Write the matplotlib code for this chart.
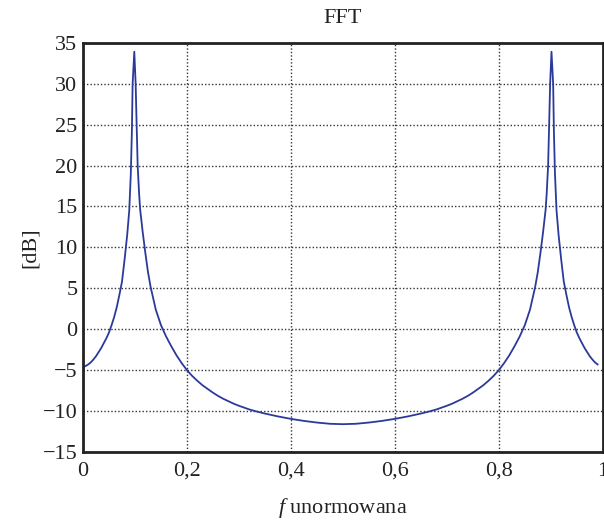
import matplotlib
matplotlib.use('Agg')
import matplotlib.pyplot as plt
from matplotlib.ticker import FixedLocator, FixedFormatter

# normalised frequency and magnitude [dB]
freq_left = [0.00, 0.005, 0.01, 0.015, 0.02, 0.025, 0.03, 0.035, 0.04, 0.045,
             0.05, 0.055, 0.06, 0.065, 0.07, 0.075, 0.08, 0.085, 0.089,
             0.092, 0.094, 0.0955, 0.0987, 0.1013, 0.1032, 0.1052, 0.108,
             0.11, 0.115, 0.12, 0.125, 0.13, 0.14, 0.15, 0.16, 0.17, 0.18,
             0.19, 0.20, 0.21, 0.22, 0.23, 0.24, 0.25, 0.26, 0.27, 0.28,
             0.29, 0.30, 0.32, 0.334, 0.35, 0.375, 0.40, 0.425, 0.45, 0.475,
             0.50]
db_left = [-4.6, -4.5, -4.3, -4.05, -3.7, -3.3, -2.8, -2.3, -1.7, -1.1,
           -0.4, 0.5, 1.5, 2.7, 4.2, 5.8, 8.5, 11.5, 14.5,
           19, 24, 30, 33.9, 30, 25, 20, 16.5,
           14.6, 11.8, 9.3, 7.0, 5.2, 2.4, 0.5, -0.9, -2.1, -3.2,
           -4.15, -5.0, -5.7, -6.3, -6.85, -7.3, -7.75, -8.15, -8.5, -8.8,
           -9.1, -9.35, -9.8, -10.05, -10.3, -10.65, -10.95, -11.2, -11.4, -11.55,
           -11.6]

freq_right = [0.525, 0.55, 0.575, 0.60, 0.625, 0.65, 0.666, 0.68, 0.70, 0.71,
              0.72, 0.73, 0.74, 0.75, 0.76, 0.77, 0.78, 0.79, 0.80, 0.81,
              0.82, 0.83, 0.84, 0.85, 0.86, 0.87, 0.875, 0.88, 0.885, 0.89,
              0.892, 0.8948, 0.8968, 0.8987, 0.9013, 0.9045, 0.906, 0.908,
              0.911, 0.915, 0.92, 0.925, 0.93, 0.935, 0.94, 0.945, 0.95,
              0.955, 0.96, 0.965, 0.97, 0.975, 0.98, 0.985, 0.99]
db_right = [-11.55, -11.4, -11.2, -10.95, -10.65, -10.3, -10.05, -9.8, -9.35, -9.1,
            -8.8, -8.5, -8.15, -7.75, -7.3, -6.85, -6.3, -5.7, -5.0, -4.15,
            -3.2, -2.1, -0.9, 0.5, 2.4, 5.2, 7.0, 9.3, 11.8, 14.6,
            16.5, 20, 25, 30, 33.9, 30, 24, 19,
            14.5, 11.5, 8.5, 5.8, 4.2, 2.7, 1.5, 0.5, -0.4,
            -1.1, -1.7, -2.3, -2.8, -3.3, -3.7, -4.05, -4.3]

x_ticks = [0, 0.2, 0.4, 0.6, 0.8, 1.0]
x_labels = ['0', '0,2', '0,4', '0,6', '0,8', '1']
y_ticks = [-15, -10, -5, 0, 5, 10, 15, 20, 25, 30, 35]

plt.rcParams['font.family'] = ['Liberation Serif', 'DejaVu Serif']
plt.rcParams['mathtext.fontset'] = 'custom'
plt.rcParams['mathtext.it'] = 'Liberation Serif:italic'
plt.rcParams['font.size'] = 16

fig = plt.figure(figsize=(6.04, 5.21), dpi=100)
ax = fig.add_axes([0.1374, 0.1324, 0.8606, 0.7856])

ax.plot(freq_left + freq_right, db_left + db_right, color='#2b3a9a',
        linewidth=1.3)

ax.set_xlim(0, 1)
ax.set_ylim(-15, 35)
ax.xaxis.set_major_locator(FixedLocator(x_ticks))
ax.xaxis.set_major_formatter(FixedFormatter(x_labels))
ax.set_yticks(y_ticks)
ax.tick_params(length=0, colors='#222222', labelsize=16)
ax.tick_params(axis='y', pad=4)
ax.tick_params(axis='x', pad=7)
ax.grid(True, color='#333333', linestyle=(0, (1, 1.5)), linewidth=1.0)

for spine in ax.spines.values():
    spine.set_linewidth(2.0)
    spine.set_color('#222222')

ax.set_title('FFT', fontsize=16, pad=14, color='#222222')
ax.set_ylabel('[dB]', fontsize=16, labelpad=2, color='#222222')
ax.set_xlabel('$f$ unormowana', fontsize=16, labelpad=11, color='#222222')

fig.savefig('out.png', dpi=100)
